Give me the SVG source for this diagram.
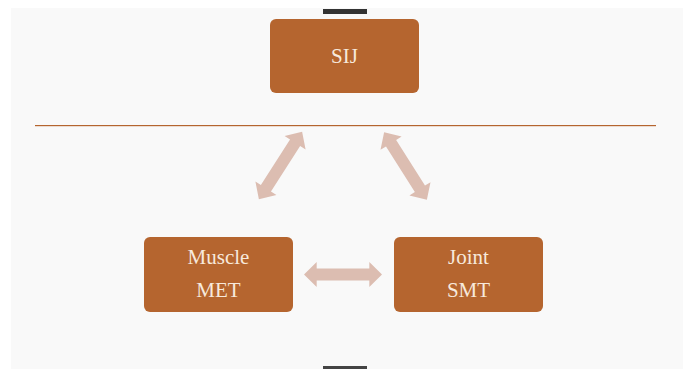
<svg xmlns="http://www.w3.org/2000/svg" width="683" height="369" viewBox="0 0 683 369">
<defs>
<style>
.box{fill:#b5652f;}
.lbl{font-family:'Liberation Serif','DejaVu Serif',serif;font-size:21px;fill:#f7e9dc;text-anchor:middle;}
.arr{fill:#dcbdb1;}
</style>
<path id="dbl" d="M -40,0 L -27,-12.5 L -27,-6 L 27,-6 L 27,-12.5 L 40,0 L 27,12.5 L 27,6 L -27,6 L -27,12.5 Z"/>
</defs>
<rect x="0" y="0" width="683" height="369" fill="#ffffff"/>
<rect x="11" y="8" width="672" height="361" fill="#f9f9f9"/>
<rect x="323" y="9" width="44" height="5" fill="#333333"/>
<rect x="323" y="366" width="44" height="3" fill="#444444"/>
<rect x="35" y="125" width="621" height="1.2" fill="#b5652f"/>
<g id="node-sij">
<rect class="box" x="270" y="19" width="149" height="74" rx="6"/>
<text class="lbl" x="344.5" y="63">SIJ</text>
</g>
<g id="node-muscle">
<rect class="box" x="144" y="237" width="149" height="75" rx="6"/>
<text class="lbl" x="218.5" y="264">Muscle</text>
<text class="lbl" x="218.5" y="297">MET</text>
</g>
<g id="node-joint">
<rect class="box" x="394" y="237" width="149" height="75" rx="6"/>
<text class="lbl" x="468.5" y="264">Joint</text>
<text class="lbl" x="468.5" y="297">SMT</text>
</g>
<g id="connectors">
<use href="#dbl" class="arr" transform="translate(280.5,165.5) rotate(-57.3)"/>
<use href="#dbl" class="arr" transform="translate(405.5,166) rotate(57.7)"/>
<use href="#dbl" class="arr" transform="translate(343,274.5) scale(0.975,1)"/>
</g>
</svg>
